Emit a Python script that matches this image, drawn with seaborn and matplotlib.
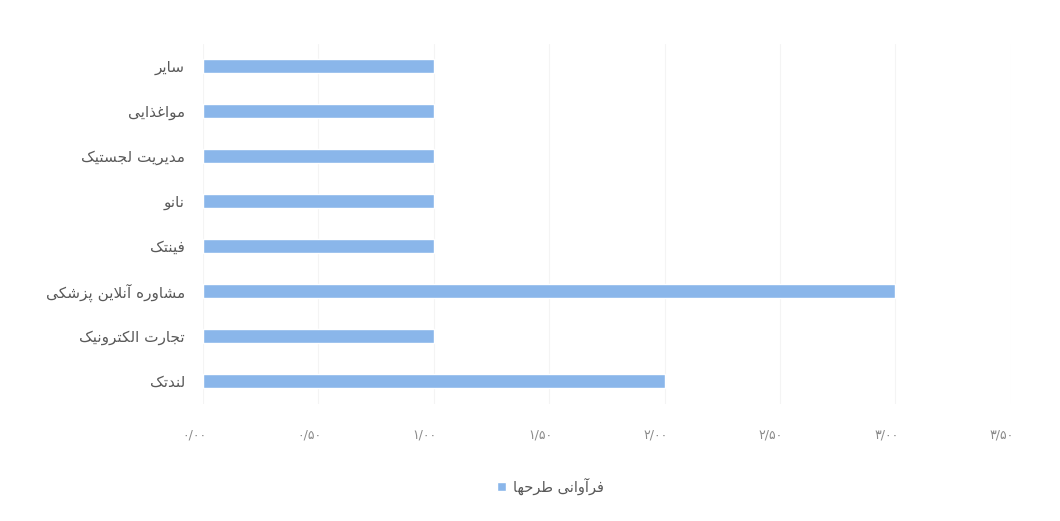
import numpy as np
import pandas as pd
import seaborn as sns
import matplotlib.pyplot as plt
import matplotlib.transforms as mtransforms

categories = ["سایر", "مواغذایی", "مدیریت لجستیک", "نانو", "فینتک",
              "مشاوره آنلاین پزشکی", "تجارت الکترونیک", "لندتک"]
values = [1, 1, 1, 1, 1, 3, 1, 2]
series_name = "فرآوانی طرحها"
x_ticks = [0, 0.5, 1, 1.5, 2, 2.5, 3, 3.5]

bar_color = "#8AB6EA"

# matplotlib 3.10 has no Arabic shaping, so pick presentation forms by hand
# (isolated, final, initial, medial); two entries = joins only to the right
FORMS = {
    "ا": (0xFE8D, 0xFE8E), "آ": (0xFE81, 0xFE82),
    "ب": (0xFE8F, 0xFE90, 0xFE91, 0xFE92), "ت": (0xFE95, 0xFE96, 0xFE97, 0xFE98),
    "ث": (0xFE99, 0xFE9A, 0xFE9B, 0xFE9C), "ج": (0xFE9D, 0xFE9E, 0xFE9F, 0xFEA0),
    "ح": (0xFEA1, 0xFEA2, 0xFEA3, 0xFEA4), "خ": (0xFEA5, 0xFEA6, 0xFEA7, 0xFEA8),
    "د": (0xFEA9, 0xFEAA), "ذ": (0xFEAB, 0xFEAC), "ر": (0xFEAD, 0xFEAE),
    "ز": (0xFEAF, 0xFEB0), "ژ": (0xFB8A, 0xFB8B),
    "س": (0xFEB1, 0xFEB2, 0xFEB3, 0xFEB4), "ش": (0xFEB5, 0xFEB6, 0xFEB7, 0xFEB8),
    "ص": (0xFEB9, 0xFEBA, 0xFEBB, 0xFEBC), "ض": (0xFEBD, 0xFEBE, 0xFEBF, 0xFEC0),
    "ط": (0xFEC1, 0xFEC2, 0xFEC3, 0xFEC4), "ظ": (0xFEC5, 0xFEC6, 0xFEC7, 0xFEC8),
    "ع": (0xFEC9, 0xFECA, 0xFECB, 0xFECC), "غ": (0xFECD, 0xFECE, 0xFECF, 0xFED0),
    "ف": (0xFED1, 0xFED2, 0xFED3, 0xFED4), "ق": (0xFED5, 0xFED6, 0xFED7, 0xFED8),
    "ک": (0xFB8E, 0xFB8F, 0xFB90, 0xFB91), "گ": (0xFB92, 0xFB93, 0xFB94, 0xFB95),
    "ل": (0xFEDD, 0xFEDE, 0xFEDF, 0xFEE0), "م": (0xFEE1, 0xFEE2, 0xFEE3, 0xFEE4),
    "ن": (0xFEE5, 0xFEE6, 0xFEE7, 0xFEE8), "ه": (0xFEE9, 0xFEEA, 0xFEEB, 0xFEEC),
    "و": (0xFEED, 0xFEEE), "ی": (0xFBFC, 0xFBFD, 0xFBFE, 0xFBFF),
    "پ": (0xFB56, 0xFB57, 0xFB58, 0xFB59), "چ": (0xFB7A, 0xFB7B, 0xFB7C, 0xFB7D),
}
LAM_ALEF = {"ا": (0xFEFB, 0xFEFC), "آ": (0xFEF5, 0xFEF6)}


def shape(text):
    # merge lam + alef into one ligature token
    chars = []
    i = 0
    while i < len(text):
        c = text[i]
        if c == "ل" and i + 1 < len(text) and text[i + 1] in LAM_ALEF:
            chars.append(("LA", text[i + 1]))
            i += 2
        else:
            chars.append((c, None))
            i += 1

    def dual(tok):
        return tok[0] in FORMS and len(FORMS[tok[0]]) == 4

    out = []
    for k, tok in enumerate(chars):
        prev_joins = k > 0 and dual(chars[k - 1])
        if tok[0] == "LA":
            iso, fin = LAM_ALEF[tok[1]]
            out.append(chr(fin if prev_joins else iso))
            continue
        c = tok[0]
        if c not in FORMS:
            out.append(c)
            continue
        f = FORMS[c]
        nxt = chars[k + 1] if k + 1 < len(chars) else None
        next_joins = len(f) == 4 and nxt is not None and (nxt[0] in FORMS or nxt[0] == "LA")
        if prev_joins and next_joins:
            out.append(chr(f[3]))
        elif prev_joins:
            out.append(chr(f[1]))
        elif next_joins:
            out.append(chr(f[2]))
        else:
            out.append(chr(f[0]))
    return "".join(out)[::-1]


def fa_number(v):
    s = f"{v:.2f}".replace(".", "/")
    return s.translate(str.maketrans("0123456789", "۰۱۲۳۴۵۶۷۸۹"))


df = pd.DataFrame({"category": [shape(c) for c in categories], "value": values})

sns.set_style("white")
plt.rcParams["font.family"] = ["DejaVu Sans"]

fig = plt.figure(figsize=(10.6, 5.21), dpi=100)
ax = fig.add_axes([0.1915, 0.2255, 0.762, 0.691])

sns.barplot(data=df, x="value", y="category", orient="h", color=bar_color,
            width=0.3, saturation=1, label=shape(series_name), ax=ax)

ax.set_xlim(0, 3.5)
ax.set_ylim(len(categories) - 0.5, -0.5)
ax.set_xticks(x_ticks)
ax.set_xticklabels([fa_number(v) for v in x_ticks], fontsize=9, color="#8a8a8a")
ax.tick_params(axis="x", length=0, pad=18)
ax.tick_params(axis="y", length=0, pad=13, labelsize=11, labelcolor="#595959")
offset = mtransforms.ScaledTranslation(-0.09, 0, fig.dpi_scale_trans)
for lbl in ax.get_xticklabels():
    lbl.set_transform(lbl.get_transform() + offset)

ax.set_xlabel("")
ax.set_ylabel("")
ax.grid(axis="x", color="#f4f4f4", linewidth=0.8)
ax.set_axisbelow(True)
sns.despine(ax=ax, left=True, bottom=True)

leg = ax.legend(loc="upper center", bbox_to_anchor=(0.43, -0.17), frameon=False,
                markerfirst=True, handlelength=0.6, handleheight=0.6,
                handletextpad=0.5, fontsize=10.5)
for t in leg.get_texts():
    t.set_color("#595959")

fig.savefig("out.png", dpi=100, facecolor="white")
